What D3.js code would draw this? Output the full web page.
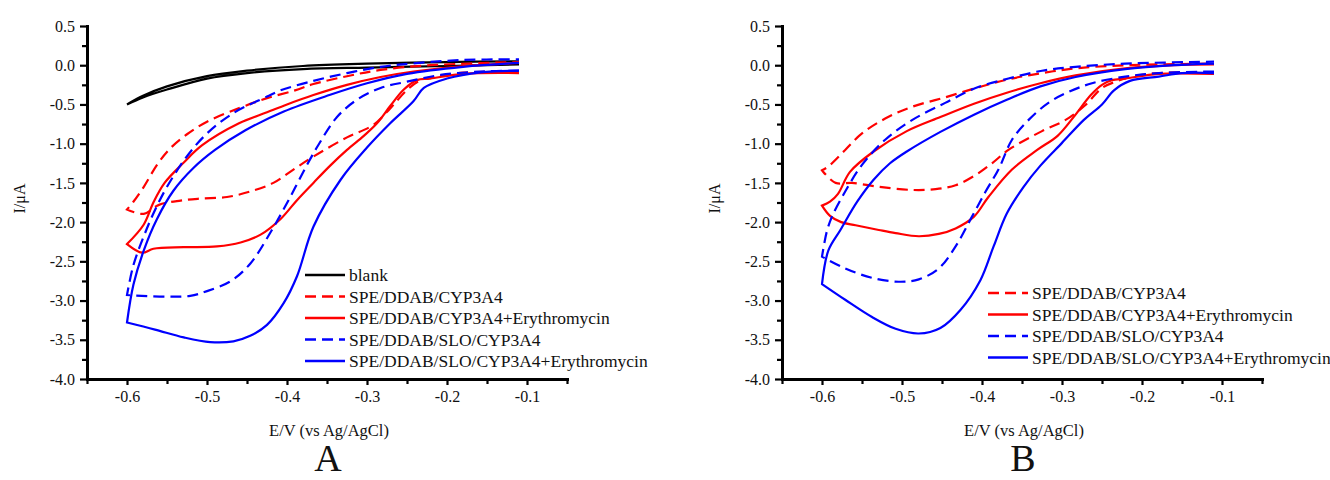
<!DOCTYPE html>
<html lang="en">
<head>
<meta charset="utf-8" />
<title>CYP3A4 cyclic voltammograms</title>
<style>
  body { margin: 0; background: #fff; }
  svg text { font-family: 'Liberation Serif', 'Times New Roman', serif; fill: #111; }
</style>
<script src="https://cdn.jsdelivr.net/npm/d3@7/dist/d3.min.js"></script>
</head>
<body>
<script>
// tick labels
var xTicks = [-0.6, -0.5, -0.4, -0.3, -0.2, -0.1];
var xMinor = [-0.65, -0.55, -0.45, -0.35, -0.25, -0.15, -0.05];
var yTicks = [0.5, 0.0, -0.5, -1.0, -1.5, -2.0, -2.5, -3.0, -3.5, -4.0];
var yMinor = [0.25, -0.25, -0.75, -1.25, -1.75, -2.25, -2.75, -3.25, -3.75];

var names = ['blank', 'SPE/DDAB/CYP3A4', 'SPE/DDAB/CYP3A4+Erythromycin',
             'SPE/DDAB/SLO/CYP3A4', 'SPE/DDAB/SLO/CYP3A4+Erythromycin'];

// panel A : [E (V), I (uA)], cathodic branch from -0.11 V then back
var aBlank = [[-0.11, 0.01], [-0.2, -0.01], [-0.3, -0.03], [-0.38, -0.05], [-0.45, -0.1],
  [-0.5, -0.17], [-0.55, -0.31], [-0.58, -0.41], [-0.6, -0.5],
  [-0.58, -0.39], [-0.55, -0.27], [-0.5, -0.14], [-0.45, -0.07], [-0.38, -0.01],
  [-0.3, 0.02], [-0.2, 0.04], [-0.11, 0.05]];

var aRedDash = [[-0.11, -0.08], [-0.15, -0.085], [-0.18, -0.095], [-0.2125, -0.145], [-0.233, -0.19],
  [-0.25, -0.315], [-0.271, -0.55], [-0.292, -0.76], [-0.325, -0.92], [-0.367, -1.165],
  [-0.392, -1.33], [-0.417, -1.5], [-0.446, -1.61], [-0.475, -1.68], [-0.508, -1.7],
  [-0.533, -1.725], [-0.56, -1.78], [-0.579, -1.895], [-0.6, -1.84],
  [-0.592, -1.74], [-0.579, -1.55], [-0.5625, -1.27], [-0.546, -1.06], [-0.525, -0.88],
  [-0.5, -0.72], [-0.458, -0.54], [-0.425, -0.42], [-0.39, -0.32], [-0.367, -0.24],
  [-0.325, -0.14], [-0.283, -0.06], [-0.221, 0.0], [-0.11, 0.04]];

var aRedSolid = [[-0.11, -0.1], [-0.179, -0.11], [-0.221, -0.17], [-0.2375, -0.19], [-0.254, -0.31],
  [-0.271, -0.52], [-0.2875, -0.74], [-0.304, -0.9], [-0.325, -1.08], [-0.346, -1.28],
  [-0.367, -1.5], [-0.3875, -1.72], [-0.408, -1.96], [-0.433, -2.16], [-0.458, -2.26],
  [-0.4875, -2.31], [-0.529, -2.32], [-0.567, -2.34], [-0.581, -2.39], [-0.6, -2.28],
  [-0.579, -2.03], [-0.567, -1.75], [-0.553, -1.5], [-0.529, -1.24], [-0.506, -1.02],
  [-0.46, -0.74], [-0.425, -0.6], [-0.4, -0.5], [-0.367, -0.38], [-0.325, -0.25],
  [-0.283, -0.15], [-0.242, -0.08], [-0.179, -0.01], [-0.11, 0.03]];

var aBlueDash = [[-0.11, -0.07], [-0.158, -0.08], [-0.208, -0.124], [-0.25, -0.21], [-0.283, -0.29],
  [-0.3125, -0.44], [-0.3375, -0.66], [-0.361, -1.02], [-0.375, -1.27], [-0.397, -1.7],
  [-0.42, -2.12], [-0.446, -2.53], [-0.47, -2.75], [-0.5, -2.88], [-0.521, -2.94],
  [-0.55, -2.95], [-0.6, -2.93],
  [-0.592, -2.55], [-0.579, -2.18], [-0.567, -1.89], [-0.55, -1.55], [-0.525, -1.16],
  [-0.5, -0.87], [-0.467, -0.61], [-0.425, -0.4], [-0.408, -0.32], [-0.367, -0.2],
  [-0.325, -0.1], [-0.283, -0.02], [-0.242, 0.024], [-0.179, 0.067], [-0.11, 0.075]];

var aBlueSolid = [[-0.11, -0.07], [-0.158, -0.09], [-0.2, -0.17], [-0.229, -0.29], [-0.242, -0.46],
  [-0.271, -0.74], [-0.3, -1.05], [-0.333, -1.46], [-0.367, -2.06], [-0.3875, -2.69],
  [-0.404, -3.03], [-0.425, -3.31], [-0.446, -3.45], [-0.467, -3.52], [-0.496, -3.53],
  [-0.529, -3.47], [-0.565, -3.37], [-0.6, -3.28],
  [-0.592, -2.8], [-0.579, -2.36], [-0.5625, -1.96], [-0.542, -1.6], [-0.517, -1.31],
  [-0.49, -1.08], [-0.452, -0.83], [-0.404, -0.59], [-0.347, -0.38], [-0.3, -0.23],
  [-0.25, -0.11], [-0.18, -0.02], [-0.11, 0.03]];

// panel B
var bRedDash = [[-0.11, -0.09], [-0.18, -0.1], [-0.2125, -0.145], [-0.233, -0.21], [-0.25, -0.29],
  [-0.271, -0.51], [-0.296, -0.7], [-0.325, -0.84], [-0.367, -1.08], [-0.3875, -1.25],
  [-0.408, -1.4], [-0.433, -1.53], [-0.458, -1.58], [-0.4875, -1.59], [-0.529, -1.55],
  [-0.5625, -1.5], [-0.583, -1.5], [-0.6, -1.34],
  [-0.592, -1.29], [-0.571, -1.08], [-0.55, -0.87], [-0.521, -0.68], [-0.4875, -0.53],
  [-0.446, -0.41], [-0.404, -0.28], [-0.367, -0.18], [-0.325, -0.1], [-0.283, -0.04],
  [-0.221, 0.0], [-0.11, 0.02]];

var bRedSolid = [[-0.11, -0.11], [-0.179, -0.11], [-0.221, -0.17], [-0.2375, -0.19], [-0.25, -0.25],
  [-0.264, -0.38], [-0.285, -0.655], [-0.3055, -0.9], [-0.331, -1.08], [-0.3625, -1.33],
  [-0.392, -1.68], [-0.41, -1.93], [-0.433, -2.08], [-0.454, -2.15], [-0.479, -2.18],
  [-0.508, -2.14], [-0.529, -2.1], [-0.558, -2.04], [-0.576, -2.0], [-0.59, -1.92], [-0.6, -1.79],
  [-0.59, -1.74], [-0.58, -1.64], [-0.565, -1.36], [-0.5355, -1.1], [-0.494, -0.84],
  [-0.452, -0.66], [-0.41, -0.49], [-0.369, -0.35], [-0.327, -0.23], [-0.283, -0.13],
  [-0.221, -0.04], [-0.16, 0.0], [-0.11, 0.01]];

var bBlueDash = [[-0.11, -0.08], [-0.179, -0.1], [-0.221, -0.145], [-0.2625, -0.23], [-0.2917, -0.34],
  [-0.317, -0.48], [-0.342, -0.7], [-0.3625, -0.95], [-0.379, -1.32], [-0.396, -1.62],
  [-0.4125, -1.93], [-0.433, -2.31], [-0.454, -2.59], [-0.479, -2.73], [-0.504, -2.76],
  [-0.5375, -2.71], [-0.571, -2.59], [-0.6, -2.44],
  [-0.594, -2.12], [-0.5875, -1.93], [-0.571, -1.61], [-0.55, -1.27], [-0.521, -0.95],
  [-0.4875, -0.7], [-0.446, -0.48], [-0.408, -0.29], [-0.367, -0.17], [-0.325, -0.07],
  [-0.283, -0.02], [-0.221, 0.02], [-0.11, 0.045]];

var bBlueSolid = [[-0.11, -0.1], [-0.15, -0.1], [-0.179, -0.145], [-0.215, -0.2], [-0.235, -0.32],
  [-0.25, -0.5], [-0.273, -0.7], [-0.3, -0.99], [-0.327, -1.28], [-0.348, -1.55],
  [-0.369, -1.89], [-0.3855, -2.31], [-0.402, -2.74], [-0.427, -3.12], [-0.452, -3.35],
  [-0.479, -3.42], [-0.508, -3.36], [-0.5375, -3.21], [-0.571, -2.99], [-0.6, -2.79],
  [-0.592, -2.36], [-0.577, -2.1], [-0.556, -1.74], [-0.5355, -1.46], [-0.515, -1.25],
  [-0.494, -1.1], [-0.452, -0.85], [-0.41, -0.63], [-0.369, -0.44], [-0.327, -0.27],
  [-0.283, -0.15], [-0.221, -0.05], [-0.16, 0.0], [-0.11, 0.02]];

// line style per series index
var styles = [
  { color: '#000000', dash: null },
  { color: '#ff0000', dash: '11,6' },
  { color: '#ff0000', dash: null },
  { color: '#0000ff', dash: '11,6' },
  { color: '#0000ff', dash: null }
];

var W = 1330, H = 480;
var svg = d3.select('body').append('svg')
  .attr('width', W).attr('height', H);
svg.append('rect').attr('width', W).attr('height', H).attr('fill', '#fff');

var plotTop = 26, pw = 480, ph = 353;

function drawPanel(ox, curves, idx, letter, legX, legY) {
  var g = svg.append('g').attr('transform', 'translate(' + ox + ',' + plotTop + ')');

  var x = d3.scaleLinear().domain([-0.65, -0.05]).range([0, pw]);
  var y = d3.scaleLinear().domain([-4, 0.5]).range([ph, 0]);

  var line = d3.line()
    .x(function(d) { return x(d[0]); })
    .y(function(d) { return y(d[1]); })
    .curve(d3.curveCatmullRom.alpha(0.5));

  curves.forEach(function(c, i) {
    var s = styles[idx[i]];
    // split at the switching potential so the turn stays sharp
    var k = d3.minIndex(c, function(d) { return d[0]; });
    var d = line(c.slice(0, k + 1)) + line(c.slice(k)).replace(/^M/, 'L');
    g.append('path')
      .attr('d', d)
      .attr('fill', 'none')
      .attr('stroke', s.color)
      .attr('stroke-width', 2.2)
      .attr('stroke-linejoin', 'miter')
      .attr('stroke-dasharray', s.dash);
  });

  // axes
  var fmt = function(d) { return d.toFixed(1); };
  var xa = g.append('g').attr('transform', 'translate(0,' + ph + ')')
    .call(d3.axisBottom(x).tickValues(xTicks).tickSize(6).tickSizeOuter(0)
      .tickPadding(6).tickFormat(fmt));
  var xm = g.append('g').attr('transform', 'translate(0,' + ph + ')')
    .call(d3.axisBottom(x).tickValues(xMinor).tickSize(5).tickSizeOuter(0).tickFormat(''));
  var ya = g.append('g')
    .call(d3.axisLeft(y).tickValues(yTicks).tickSize(7).tickSizeOuter(0)
      .tickPadding(5).tickFormat(fmt));
  var ym = g.append('g')
    .call(d3.axisLeft(y).tickValues(yMinor).tickSize(5).tickSizeOuter(0).tickFormat(''));

  [xa, xm, ya, ym].forEach(function(a) {
    a.select('.domain').attr('stroke', '#000').attr('stroke-width', 3)
      .attr('stroke-linecap', 'square');
    a.selectAll('.tick line').attr('stroke', '#000').attr('stroke-width', 2.2);
    a.selectAll('.tick text')
      .attr('font-family', "'Liberation Serif', serif")
      .attr('font-size', 16).attr('fill', '#111');
  });

  // axis titles
  g.append('text')
    .attr('x', pw / 2 + 2).attr('y', 410)
    .attr('text-anchor', 'middle').attr('font-size', 16.5)
    .text('E/V (vs Ag/AgCl)');
  g.append('text')
    .attr('transform', 'translate(-62,' + (ph / 2 - 4) + ') rotate(-90)')
    .attr('text-anchor', 'middle').attr('font-size', 16)
    .text('I/\u03bcA');

  // panel letter
  g.append('text')
    .attr('x', pw / 2 + 1).attr('y', 445)
    .attr('text-anchor', 'middle').attr('font-size', 38)
    .text(letter);

  // legend
  var lg = g.append('g').attr('transform', 'translate(' + (legX - ox) + ',' + (legY - plotTop) + ')');
  idx.forEach(function(k, i) {
    var s = styles[k];
    var row = lg.append('g').attr('transform', 'translate(0,' + (i * 21.5) + ')');
    row.append('line')
      .attr('x1', 0).attr('x2', 40).attr('y1', 0).attr('y2', 0)
      .attr('stroke', s.color).attr('stroke-width', 2.4)
      .attr('stroke-dasharray', s.dash);
    row.append('text')
      .attr('x', 44).attr('y', 0).attr('dy', '0.35em')
      .attr('font-size', 17.5)
      .text(names[k]);
  });
}

drawPanel(87, [aBlank, aRedDash, aRedSolid, aBlueDash, aBlueSolid], [0, 1, 2, 3, 4], 'A', 305, 275);
drawPanel(782, [bRedDash, bRedSolid, bBlueDash, bBlueSolid], [1, 2, 3, 4], 'B', 988, 293);
</script>
</body>
</html>
